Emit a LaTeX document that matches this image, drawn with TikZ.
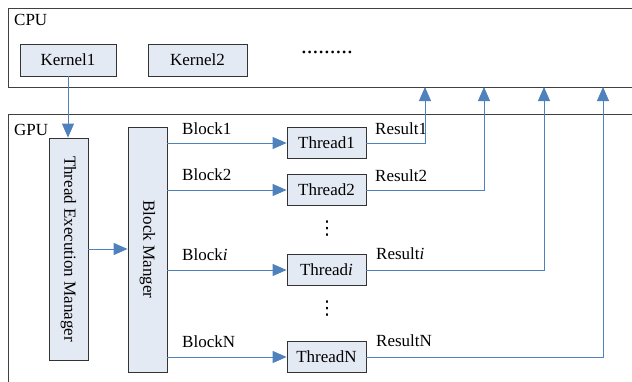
\documentclass[tikz,border=0pt]{standalone}
\usepackage{fontspec}
\usepackage{graphicx}
\setmainfont{Liberation Serif}
\newfontfamily\symfont{DejaVu Sans}
\usetikzlibrary{arrows.meta}
\definecolor{linkblue}{HTML}{4F81BD}
\definecolor{boxfill}{HTML}{E4EAF4}
\tikzset{
  panel/.style={draw=black!75, line width=0.8pt, anchor=north west, inner sep=0pt},
  unit/.style={draw=black!80, fill=boxfill, line width=0.8pt, inner sep=0pt},
  lbl/.style={anchor=west, inner sep=0pt},
  vdot/.style={inner sep=0pt, font=\symfont\fontsize{19}{19}\selectfont},
  flow/.style={draw=linkblue, line width=0.9pt, -{Triangle[length=14pt,width=12pt]}},
}
\begin{document}
\begin{tikzpicture}[x=1pt, y=-1pt, font=\fontsize{17}{20}\selectfont]
  \useasboundingbox (0,0) rectangle (632,381);
  \clip (0,0) rectangle (632,381);
  % CPU
  \node[panel, minimum width=640pt, minimum height=79pt] (cpu) at (8,8) {};
  \node[lbl] (cpulbl) at (14,20) {CPU};
  \node[unit, minimum width=96pt, minimum height=32pt] (k1) at (68,60) {Kernel1};
  \node[unit, minimum width=99pt, minimum height=32pt] (k2) at (197.5,60) {Kernel2};
  \node[lbl, font=\fontsize{23}{23}\selectfont] (kdots) at (301,52) {.........};
  % GPU
  \node[panel, minimum width=640pt, minimum height=280pt] (gpu) at (8,114) {};
  \node[lbl] (gpulbl) at (14,130) {GPU};
  \node[unit, minimum width=39pt, minimum height=222pt] (tem) at (68.5,249) {\rotatebox{-90}{Thread Execution Manager}};
  \node[unit, minimum width=39pt, minimum height=245pt] (bm) at (147.5,249.5) {\rotatebox{-90}{Block Manger}};
  \node[unit, minimum width=79pt, minimum height=31pt] (t1) at (326.5,143) {Thread1};
  \node[unit, minimum width=79pt, minimum height=31pt] (t2) at (326.5,190) {Thread2};
  \node[unit, minimum width=79pt, minimum height=31pt] (ti) at (326.5,270) {Thread\textit{i}};
  \node[unit, minimum width=79pt, minimum height=31pt] (tn) at (326.5,357) {ThreadN};
  \node[vdot] (vd1) at (327,229) {⋮};
  \node[vdot] (vd2) at (327,309) {⋮};
  % labels
  \node[lbl] (lb1) at (182,129) {Block1};
  \node[lbl] (lb2) at (182,175) {Block2};
  \node[lbl] (lbi) at (182,255) {Block\textit{i}};
  \node[lbl] (lbn) at (182,342) {BlockN};
  \node[lbl] (lr1) at (375,129) {Result1};
  \node[lbl] (lr2) at (375,176) {Result2};
  \node[lbl] (lri) at (376,254) {Result\textit{i}};
  \node[lbl] (lrn) at (376,341) {ResultN};
  \coordinate (up1) at (425,87);
  \coordinate (up2) at (484,87);
  \coordinate (upi) at (544,87);
  \coordinate (upn) at (603,87);
  % arrows
  \draw[flow] (k1.south) -- (k1.south |- tem.north);
  \draw[flow] (tem.east) -- (tem.east -| bm.west);
  \draw[flow] (bm.east |- t1.west) -- (t1.west);
  \draw[flow] (bm.east |- t2.west) -- (t2.west);
  \draw[flow] (bm.east |- ti.west) -- (ti.west);
  \draw[flow] (bm.east |- tn.west) -- (tn.west);
  \draw[flow] (t1.east) -| (up1);
  \draw[flow] (t2.east) -| (up2);
  \draw[flow] (ti.east) -| (upi);
  \draw[flow] (tn.east) -| (upn);
\end{tikzpicture}
\end{document}
